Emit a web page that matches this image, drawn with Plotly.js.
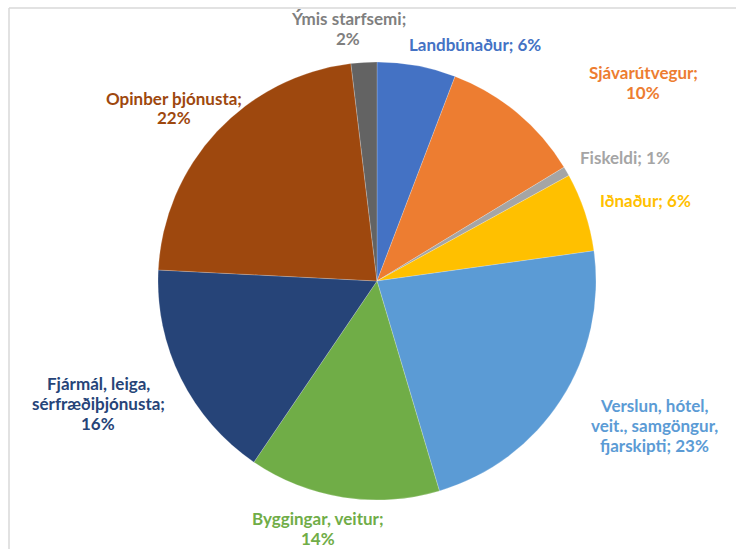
<!DOCTYPE html>
<html>
<head>
<meta charset="utf-8">
<script src="https://cdn.plot.ly/plotly-3.0.1.min.js"></script>
<style>html,body{margin:0;padding:0;background:#fff;}#chart{width:736px;height:549px;}</style>
</head>
<body>
<div id="chart"></div>
<script>
const categories = ["Landbúnaður", "Sjávarútvegur", "Fiskeldi", "Iðnaður", "Verslun, hótel, veit., samgöngur, fjarskipti", "Byggingar, veitur", "Fjármál, leiga, sérfræðiþjónusta", "Opinber þjónusta", "Ýmis starfsemi"];
const values = [5.8, 10.5, 0.7, 5.8, 22.6, 14.1, 16.3, 22.3, 1.9];
const labelLines = [
  ["Landbúnaður; 6%"],
  ["Sjávarútvegur;", "10%"],
  ["Fiskeldi; 1%"],
  ["Iðnaður; 6%"],
  ["Verslun, hótel,", "veit., samgöngur,", "fjarskipti; 23%"],
  ["Byggingar, veitur;", "14%"],
  ["Fjármál, leiga,", "sérfræðiþjónusta;", "16%"],
  ["Opinber þjónusta;", "22%"],
  ["Ýmis starfsemi;", "2%"]
];
const colors = ["#4472C4", "#ED7D31", "#A5A5A5", "#FFC000", "#5B9BD5", "#70AD47", "#264478", "#9E480E", "#636363"];
const textColors = ["#4472C4", "#ED7D31", "#A5A5A5", "#FFC000", "#5B9BD5", "#70AD47", "#264478", "#9E480E", "#7F7F7F"];
// label anchor centres in pixels (x, y of first line)
const labelPos = [[475,45],[643,72],[625,157],[645,200],[654,405],[318,518],[98,383],[174,98],[348,19]];

const W = 736, H = 549;
const cx = 377, cy = 281, r = 219;
const lh = 20;

const annotations = [];
labelLines.forEach((lines, i) => {
  lines.forEach((line, j) => {
    annotations.push({
      xref: 'paper', yref: 'paper',
      x: labelPos[i][0] / W, y: 1 - (labelPos[i][1] + j * lh) / H,
      xanchor: 'center', yanchor: 'middle',
      text: line, showarrow: false, align: 'center',
      font: {family: 'Lato, "Open Sans", sans-serif', size: 17, color: textColors[i], weight: 'bold'}
    });
  });
});

const trace = {
  type: 'pie',
  labels: categories,
  values: values,
  sort: false,
  direction: 'clockwise',
  rotation: 0,
  textinfo: 'none',
  hoverinfo: 'label+percent',
  marker: {colors: colors, line: {color: 'rgba(255,255,255,0.4)', width: 0.5}},
  domain: {x: [(cx - r) / W, (cx + r) / W], y: [(H - cy - r) / H, (H - cy + r) / H]},
  showlegend: false
};

const layout = {
  width: W, height: H,
  margin: {l: 0, r: 0, t: 0, b: 0},
  paper_bgcolor: '#ffffff',
  annotations: annotations,
  shapes: [
    {type: 'line', xref: 'paper', yref: 'paper', x0: 9/W, x1: 1, y0: 1 - 8/H, y1: 1 - 8/H, line: {color: '#d9d9d9', width: 1.5}},
    {type: 'line', xref: 'paper', yref: 'paper', x0: 9/W, x1: 9/W, y0: 0, y1: 1 - 8/H, line: {color: '#d9d9d9', width: 1.5}}
  ]
};

Plotly.newPlot('chart', [trace], layout, {displayModeBar: false, staticPlot: true});
</script>
</body>
</html>
